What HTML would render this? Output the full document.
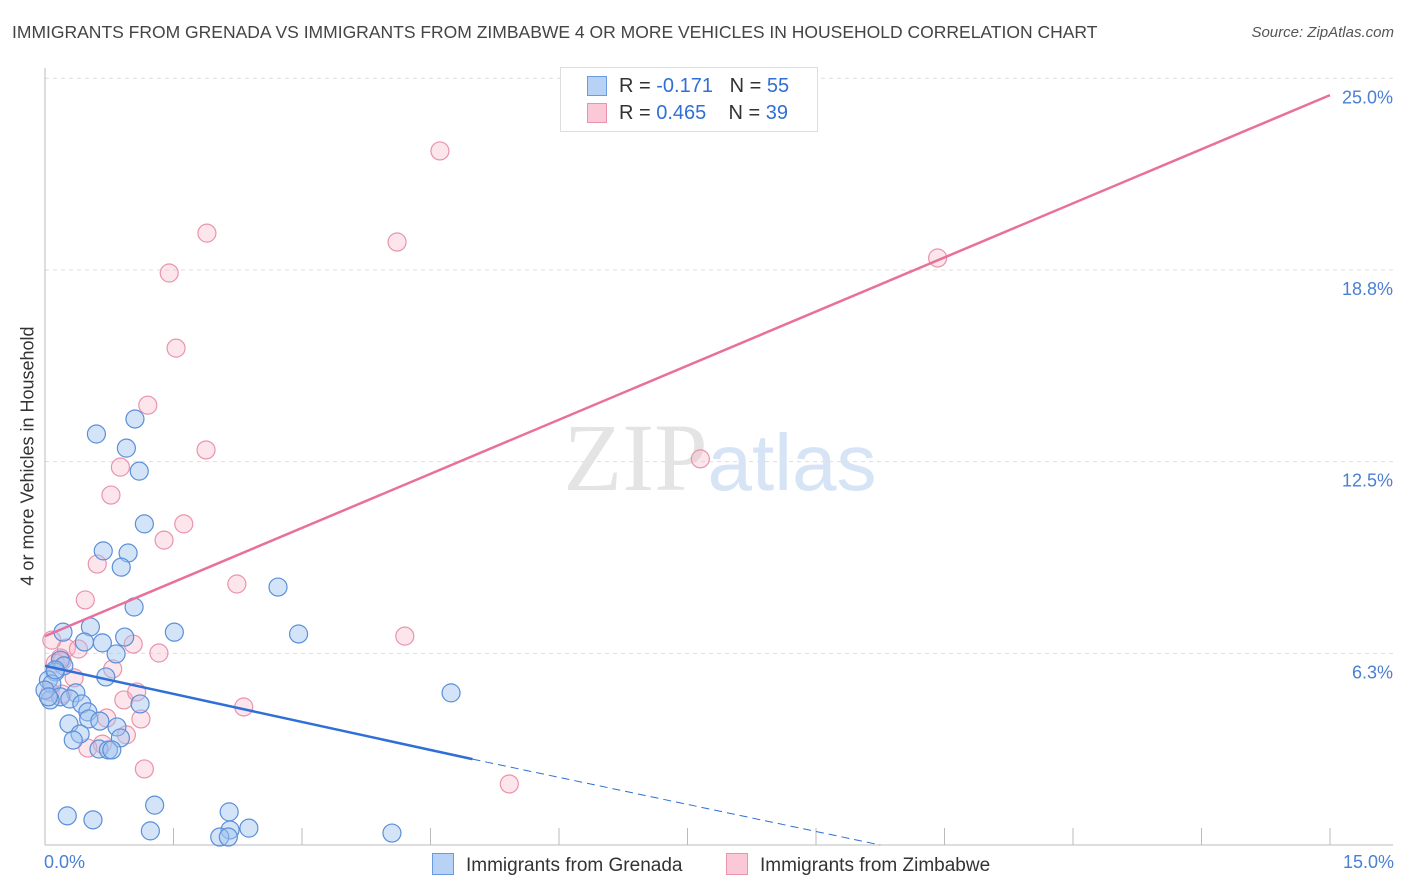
<!DOCTYPE html>
<html><head><meta charset="utf-8"><style>
body{margin:0;background:#fff;font-family:"Liberation Sans",sans-serif;}
#wrap{position:relative;width:1406px;height:892px;overflow:hidden}
.t{position:absolute;white-space:nowrap}
</style></head><body>
<div id="wrap">
<div class="t" style="left:12px;top:22px;font-size:17.5px;color:#444">IMMIGRANTS FROM GRENADA VS IMMIGRANTS FROM ZIMBABWE 4 OR MORE VEHICLES IN HOUSEHOLD CORRELATION CHART</div>
<div class="t" style="right:12px;top:24px;font-size:15px;color:#555;font-style:italic">Source: ZipAtlas.com</div>
<svg id="svg" width="1406" height="892" style="position:absolute;left:0;top:0"></svg>
</div>
<script>
const blueX=[0.60,1.05,0.95,1.10,1.16,0.68,0.97,0.89,1.04,2.72,1.51,2.96,0.21,0.53,0.93,0.46,0.67,0.83,0.18,0.22,0.12,0.04,0.08,0.71,0.36,0.18,0.06,0.0,0.29,0.43,1.11,0.50,4.74,0.28,0.51,0.64,0.84,0.41,0.33,0.88,0.63,0.74,0.78,1.28,0.26,0.56,1.23,2.15,2.38,2.16,2.04,2.14,4.05,0.12,0.04];
const blueY=[13.40,13.89,12.94,12.19,10.47,9.59,9.52,9.06,7.76,8.41,6.94,6.88,6.94,7.11,6.78,6.62,6.59,6.23,6.03,5.84,5.64,5.38,5.25,5.48,4.96,4.83,4.73,5.05,4.76,4.60,4.60,4.34,4.96,3.95,4.11,4.04,3.85,3.62,3.42,3.49,3.13,3.10,3.10,1.30,0.95,0.82,0.46,1.08,0.55,0.49,0.26,0.26,0.39,5.71,4.83];
const pinkX=[4.61,1.89,4.11,1.45,10.42,1.53,1.20,1.88,0.88,0.77,1.62,1.39,0.61,2.24,0.47,4.20,1.03,7.65,0.25,0.39,0.08,1.33,0.18,0.79,0.34,0.12,0.06,0.20,0.92,1.07,2.32,0.72,1.12,0.67,0.50,0.95,1.16,5.42,0.20];
const pinkY=[22.63,19.95,19.66,18.65,19.14,16.20,14.34,12.88,12.32,11.41,10.47,9.94,9.16,8.51,7.99,6.81,6.55,12.59,6.42,6.39,6.68,6.26,6.10,5.74,5.45,5.93,4.99,4.92,4.73,4.99,4.50,4.14,4.11,3.29,3.16,3.59,2.48,1.99,6.00];
const pinkLine=[[0,6.81],[15,24.45]];
const blueLineSolid=[[0,5.84],[4.99,2.80]];
const blueLineDash=[[4.99,2.80],[9.75,0]];
const yTicks=[6.25,12.5,18.75,25];
const yTickLabels=["6.3%","12.5%","18.8%","25.0%"];
const NS="http://www.w3.org/2000/svg";
const svg=document.getElementById('svg');
const X=v=>45+v*(1285/15);
const Y=v=>845-v*30.67;
function mk(t,a){const e=document.createElementNS(NS,t);for(const k in a)e.setAttribute(k,a[k]);svg.appendChild(e);return e;}
// gridlines
yTicks.forEach((t,i)=>{
 const g=mk('line',{x1:45,x2:1393,y1:Y(t),y2:Y(t),stroke:'#ddd','stroke-dasharray':'4,4'});
 
 
 const l=mk('text',{x:1393,y:Y(t)+25,'text-anchor':'end','font-size':18,fill:'#4a7fd4','font-family':'Liberation Sans'});
 l.textContent=yTickLabels[i];
 
 
});
const ax=mk('line',{x1:45,x2:45,y1:68,y2:845,stroke:'#bbb'});


const bx=mk('line',{x1:45,x2:1393,y1:845,y2:845,stroke:'#bbb'});


for(let i=1;i<=10;i++){const v=i*1.5;const tk=mk('line',{x1:X(v),x2:X(v),y1:828,y2:845,stroke:'#bbb'});
 
 }
// watermark
const wm=mk('text',{x:720,y:490,'text-anchor':'middle','font-size':96,fill:'#e4e4e4','font-family':'Liberation Serif'});
wm.innerHTML='ZIP<tspan fill="#d6e4f5" font-family="Liberation Sans" font-size="80">atlas</tspan>';


function dots(xs,ys,fill,stroke,name){xs.forEach((x,i)=>{const c=mk('circle',{cx:X(x),cy:Y(ys[i]),r:9,fill:fill,stroke:stroke,'stroke-width':1.2});
 
 });}
dots(pinkX,pinkY,'rgba(248,180,200,0.35)','#e993ad','zimbabwe-point');
dots(blueX,blueY,'rgba(160,196,240,0.45)','#5b8fd8','grenada-point');
const pl=mk('line',{x1:X(pinkLine[0][0]),y1:Y(pinkLine[0][1]),x2:X(pinkLine[1][0]),y2:Y(pinkLine[1][1]),stroke:'#e8709a','stroke-width':2.5});


const bl=mk('line',{x1:X(blueLineSolid[0][0]),y1:Y(blueLineSolid[0][1]),x2:X(blueLineSolid[1][0]),y2:Y(blueLineSolid[1][1]),stroke:'#2f6fd6','stroke-width':2.5});


const bd=mk('line',{x1:X(blueLineDash[0][0]),y1:Y(blueLineDash[0][1]),x2:X(blueLineDash[1][0]),y2:Y(blueLineDash[1][1]),stroke:'#2f6fd6','stroke-width':1,'stroke-dasharray':'8,5'});


</script>
<div class="t" style="left:28px;top:456px;transform:translate(-50%,-50%) rotate(-90deg);font-size:18px;color:#333">4 or more Vehicles in Household</div>
<div class="t" style="left:44px;top:852px;font-size:18px;color:#4a7fd4">0.0%</div>
<div class="t" style="right:12px;top:852px;font-size:18px;color:#4a7fd4">15.0%</div>
<div style="position:absolute;left:560px;top:67px;width:256px;height:63px;border:1px solid #ddd;background:#fff;font-size:20px;color:#333">
 <div style="position:absolute;left:26px;top:8px;width:18px;height:18px;background:#b8d2f5;border:1px solid #6a9ae0"></div>
 <div class="t" style="left:58px;top:7px">R = <span style="color:#2f6fd6">-0.171</span>&nbsp;&nbsp;&nbsp;N = <span style="color:#2f6fd6">55</span></div>
 <div style="position:absolute;left:26px;top:35px;width:18px;height:18px;background:#fbc8d8;border:1px solid #e993ad"></div>
 <div class="t" style="left:58px;top:34px">R = <span style="color:#2f6fd6">0.465</span>&nbsp;&nbsp;&nbsp;&nbsp;N = <span style="color:#2f6fd6">39</span></div>
</div>
<div style="position:absolute;left:432px;top:853px;font-size:19px;color:#333">
 <div style="position:absolute;left:0;top:0;white-space:nowrap"><span style="display:inline-block;width:20px;height:20px;background:#b8d2f5;border:1px solid #6a9ae0;vertical-align:-4px;margin-right:12px"></span>Immigrants from Grenada</div>
 <div style="position:absolute;left:294px;top:0;white-space:nowrap"><span style="display:inline-block;width:20px;height:20px;background:#fbc8d8;border:1px solid #e993ad;vertical-align:-4px;margin-right:12px"></span>Immigrants from Zimbabwe</div>
</div>
</body></html>
